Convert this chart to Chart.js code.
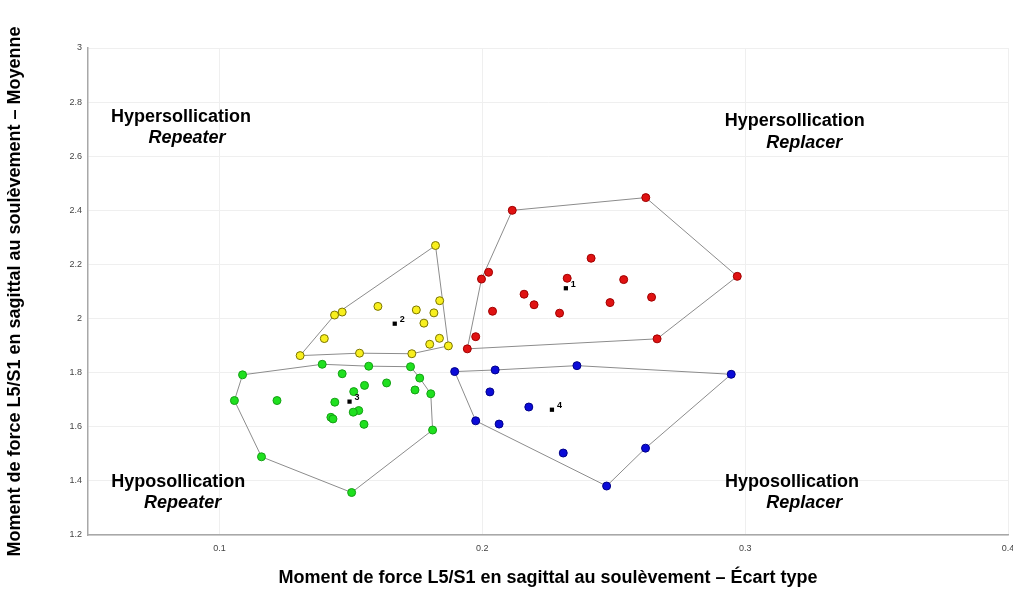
<!DOCTYPE html>
<html>
<head>
<meta charset="utf-8">
<style>
  body { margin: 0; background: #fff; }
  #wrap { width: 1013px; height: 590px; position: relative; }
</style>
</head>
<body>
<div id="wrap">
  <canvas id="myChart"></canvas>
</div>

<script src="https://cdn.jsdelivr.net/npm/chart.js"></script>

<script>
// groups: [ecart type, moyenne]
const groupRed = [
  [0.1943, 1.888], [0.1997, 2.146], [0.2114, 2.400], [0.2622, 2.447], [0.2970, 2.156], [0.2665, 1.925],
  [0.1975, 1.933], [0.2024, 2.171], [0.2414, 2.223], [0.2323, 2.149], [0.2538, 2.144], [0.2159, 2.090],
  [0.2197, 2.051], [0.2644, 2.079], [0.2486, 2.059], [0.2039, 2.027], [0.2294, 2.020]
];
const groupYellow = [
  [0.1307, 1.863], [0.1438, 2.013], [0.1822, 2.270], [0.1871, 1.899], [0.1732, 1.870], [0.1533, 1.872],
  [0.1467, 2.024], [0.1603, 2.045], [0.1749, 2.032], [0.1816, 2.021], [0.1778, 1.983], [0.1399, 1.926],
  [0.1800, 1.905], [0.1837, 1.927], [0.1838, 2.066]
];
const groupGreen = [
  [0.1088, 1.792], [0.1391, 1.831], [0.1568, 1.824], [0.1727, 1.822], [0.1762, 1.780], [0.1804, 1.722],
  [0.1811, 1.588], [0.1503, 1.357], [0.1160, 1.489], [0.1057, 1.697], [0.1219, 1.697], [0.1467, 1.796],
  [0.1552, 1.753], [0.1636, 1.762], [0.1744, 1.736], [0.1511, 1.730], [0.1439, 1.691], [0.1530, 1.660],
  [0.1509, 1.654], [0.1424, 1.635], [0.1432, 1.629], [0.1550, 1.609]
];
const groupBlue = [
  [0.1895, 1.804], [0.2049, 1.810], [0.2360, 1.826], [0.2947, 1.794], [0.2621, 1.521], [0.2473, 1.381],
  [0.1975, 1.622], [0.2308, 1.503], [0.2064, 1.610], [0.2029, 1.729], [0.2177, 1.673]
];

// hull vertices (indices into each group)
const hullRed = [0, 1, 2, 3, 4, 5, 0];
const hullYellow = [0, 1, 2, 3, 4, 5, 0];
const hullGreen = [0, 1, 2, 3, 4, 5, 6, 7, 8, 9, 0];
const hullBlue = [0, 1, 2, 3, 4, 5, 6, 0];

const centroidLabels = ['1', '2', '3', '4'];
const centroids = [[0.2318, 2.112], [0.1667, 1.981], [0.1495, 1.693], [0.2265, 1.663]];

const xTicks = [0.1, 0.2, 0.3, 0.4];
const yTicks = [1.2, 1.4, 1.6, 1.8, 2, 2.2, 2.4, 2.6, 2.8, 3];

const quadrantTitles = ['Hypersollication', 'Hypersollication', 'Hyposollication', 'Hyposollication'];
const quadrantSubtitles = ['Repeater', 'Replacer', 'Repeater', 'Replacer'];

const FONT = "Arial, 'Liberation Sans', sans-serif";

// where the quadrant captions sit, in axis units
const quadrantPos = [
  { t: [0.0854, 2.746], s: [0.0877, 2.667] },
  { t: [0.3189, 2.731], s: [0.3225, 2.649] },
  { t: [0.0843, 1.394], s: [0.0860, 1.319] },
  { t: [0.3178, 1.394], s: [0.3225, 1.320] }
];

const toXY = arr => arr.map(p => ({ x: p[0], y: p[1] }));
const hullOf = (pts, idx) => idx.map(i => ({ x: pts[i][0], y: pts[i][1] }));

const hullDs = (pts, idx) => ({
  type: 'scatter',
  data: hullOf(pts, idx),
  showLine: true,
  borderColor: '#8c8c8c',
  borderWidth: 1,
  pointRadius: 0,
  fill: false,
  order: 3
});

const pointDs = (pts, fill, border) => ({
  type: 'scatter',
  data: toXY(pts),
  backgroundColor: fill,
  borderColor: border,
  borderWidth: 1,
  pointRadius: 4,
  order: 2
});

const labelPlugin = {
  id: 'labels',
  afterDatasetsDraw(chart) {
    const { ctx, scales: { x, y } } = chart;
    ctx.save();
    // centroid numbers
    ctx.fillStyle = '#000';
    ctx.font = 'bold 9px ' + FONT;
    ctx.textAlign = 'left';
    ctx.textBaseline = 'middle';
    centroids.forEach((c, i) => {
      ctx.fillText(centroidLabels[i], x.getPixelForValue(c[0]) + 5, y.getPixelForValue(c[1]) - 4);
    });
    // quadrant captions
    ctx.textAlign = 'center';
    quadrantPos.forEach((q, i) => {
      ctx.font = 'bold 18px ' + FONT;
      ctx.fillText(quadrantTitles[i], x.getPixelForValue(q.t[0]), y.getPixelForValue(q.t[1]));
      ctx.font = 'italic bold 18px ' + FONT;
      ctx.fillText(quadrantSubtitles[i], x.getPixelForValue(q.s[0]), y.getPixelForValue(q.s[1]));
    });
    ctx.restore();
  }
};

const config = {
  type: 'scatter',
  data: {
    datasets: [
      hullDs(groupRed, hullRed),
      hullDs(groupYellow, hullYellow),
      hullDs(groupGreen, hullGreen),
      hullDs(groupBlue, hullBlue),
      pointDs(groupRed, '#e01212', '#a00000'),
      pointDs(groupYellow, '#f8ef1e', '#7a7400'),
      pointDs(groupGreen, '#1fe01f', '#14a014'),
      pointDs(groupBlue, '#0b0bd8', '#000088'),
      {
        type: 'scatter',
        data: toXY(centroids),
        pointStyle: 'rect',
        pointRadius: 3,
        backgroundColor: '#000',
        borderColor: '#000',
        borderWidth: 0,
        order: 1
      }
    ]
  },
  options: {
    responsive: true,
    maintainAspectRatio: false,
    animation: false,
    layout: { padding: { top: 48, right: 3, left: 0, bottom: 0 } },
    plugins: {
      legend: { display: false },
      tooltip: { enabled: false }
    },
    scales: {
      x: {
        type: 'linear',
        min: 0.05,
        max: 0.4,
        afterBuildTicks: s => { s.ticks = xTicks.map(v => ({ value: v })); },
        afterFit: s => { s.height = 55; s.paddingLeft = 0; s.paddingRight = 0; },
        grid: { color: '#efefef', drawTicks: false },
        border: { color: '#a8a8a8', width: 1.5 },
        ticks: {
          padding: 8,
          color: '#444',
          font: { size: 9, family: FONT },
          maxRotation: 0,
          callback: v => String(v)
        },
        title: {
          display: true,
          text: 'Moment de force L5/S1 en sagittal au soulèvement – Écart type',
          color: '#000',
          font: { size: 18, weight: 'bold', family: FONT },
          padding: { top: 4, bottom: 1 }
        }
      },
      y: {
        type: 'linear',
        min: 1.2,
        max: 3,
        afterBuildTicks: s => { s.ticks = yTicks.map(v => ({ value: v })); },
        afterFit: s => { s.width = 88; s.paddingTop = 0; s.paddingBottom = 0; },
        grid: { color: '#efefef', drawTicks: false },
        border: { color: '#a8a8a8', width: 1.5 },
        ticks: {
          padding: 6,
          color: '#444',
          font: { size: 9, family: FONT },
          callback: v => String(Math.round(v * 10) / 10)
        },
        title: {
          display: true,
          text: 'Moment de force L5/S1 en sagittal au soulèvement – Moyenne',
          color: '#000',
          font: { size: 18, weight: 'bold', family: FONT },
          padding: { top: 4, bottom: 1 }
        }
      }
    }
  },
  plugins: [labelPlugin]
};

const ctx = document.getElementById('myChart');
const scatterChart = new Chart(ctx, config);
</script>
</body>
</html>
